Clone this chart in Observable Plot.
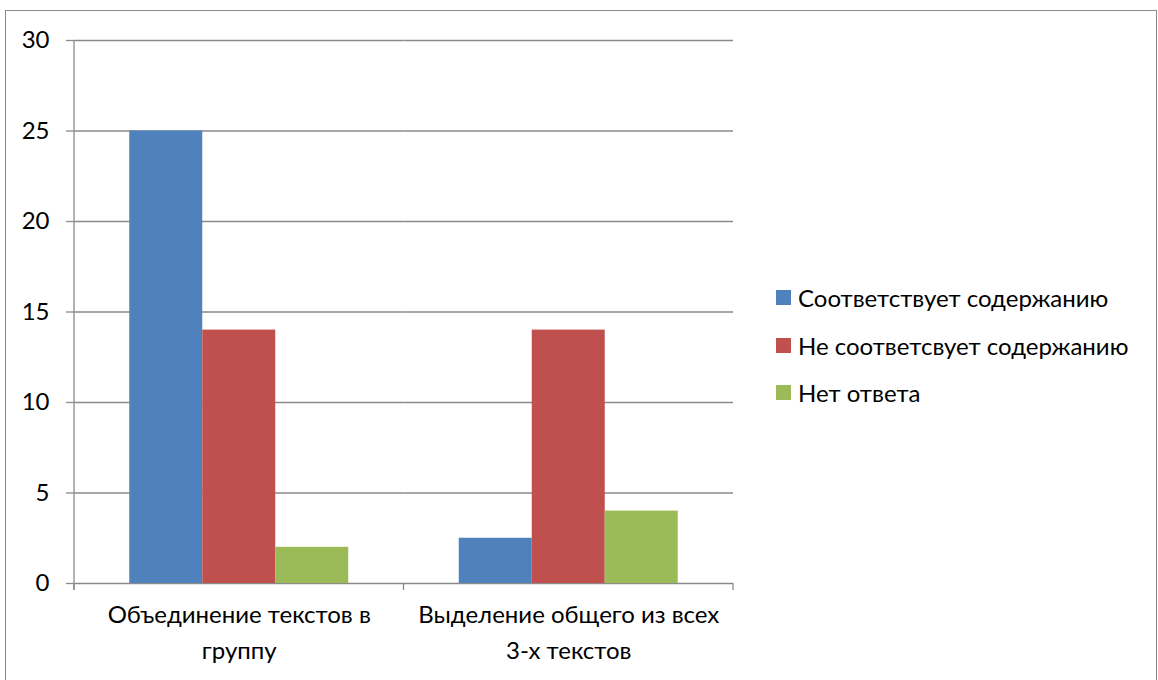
<!DOCTYPE html>
<html><head><meta charset="utf-8">
<script src="https://cdn.jsdelivr.net/npm/d3@7"></script>
<script src="https://cdn.jsdelivr.net/npm/@observablehq/plot@0.6"></script>
<style>
html,body{margin:0;padding:0;background:#fff;overflow:hidden;}
#wrap{position:relative;width:1158px;height:680px;font-family:Lato,sans-serif;}
#border{position:absolute;left:5px;top:10px;width:1152px;height:740px;border:1px solid #8a8a8a;box-sizing:border-box;}
#chart{position:absolute;left:0;top:0;}
#legend{position:absolute;left:776px;top:274px;font-size:24px;color:#000;}
.item{display:flex;align-items:center;height:47.5px;white-space:nowrap;}
.sw{width:15px;height:15px;margin-right:7px;flex:none;}
</style></head>
<body><div id="wrap"><div id="border"></div><div id="chart"></div><div id="legend"></div></div>
<script>
const categories = ["Объединение текстов в группу", "Выделение общего из всех 3-х текстов"];
const categoryLabels = ["Объединение текстов в\nгруппу", "Выделение общего из всех\n3-х текстов"];
const series = ["Соответствует содержанию", "Не соответсвует содержанию", "Нет ответа"];
const valuesSeries1 = [25, 2.5];
const valuesSeries2 = [14, 14];
const valuesSeries3 = [2, 4];
const colors = ["#4F81BD", "#C0504D", "#9BBB59"];
const yTicks = [0, 5, 10, 15, 20, 25, 30];

const allValues = [valuesSeries1, valuesSeries2, valuesSeries3];
const data = [];
categories.forEach((c, i) => series.forEach((s, j) => data.push({category: c, series: s, value: allValues[j][i]})));

const gridColor = "#8a8a8a";
const chart = Plot.plot({
  width: 1158, height: 680,
  marginLeft: 74, marginRight: 425, marginTop: 40, marginBottom: 97,
  style: {fontFamily: "Lato, sans-serif", fontSize: "24px", color: "#000", background: "transparent"},
  fx: {domain: categories, padding: 0, axis: null, label: null, round: false},
  x: {domain: series, paddingInner: 0, paddingOuter: 0.757, axis: null, round: false},
  y: {domain: [0, 30], axis: null, label: null},
  color: {domain: series, range: colors},
  marks: [
    Plot.ruleY(yTicks, {stroke: gridColor, strokeWidth: 1.3}),
    Plot.barY(data, {fx: "category", x: "series", y: "value", fill: "series", inset: 0}),
    Plot.axisY({ticks: yTicks, tickSize: 8, tickPadding: 17, stroke: gridColor, strokeWidth: 1.3, label: null, fontSize: 24}),
    Plot.axisFx({anchor: "bottom", tickSize: 0, tickPadding: 14, label: null, lineHeight: 1.5, fontSize: 24,
      tickFormat: d => categoryLabels[categories.indexOf(d)]})
  ]
});
document.getElementById("chart").appendChild(chart);

// axis lines drawn from the library's scales
const fx = chart.scale("fx"), y = chart.scale("y");
const svg = d3.select(chart);
const g = svg.append("g").attr("stroke", gridColor).attr("stroke-width", 1.3);
const x0 = fx.apply(categories[0]);
g.append("line").attr("x1", x0).attr("x2", x0).attr("y1", y.apply(30)).attr("y2", y.apply(0) + 7);
const edges = categories.map(c => fx.apply(c)).concat([fx.apply(categories[categories.length - 1]) + fx.bandwidth]);
edges.forEach(e => g.append("line").attr("x1", e).attr("x2", e).attr("y1", y.apply(0)).attr("y2", y.apply(0) + 7));

const legend = document.getElementById("legend");
series.forEach((s, i) => {
  const item = document.createElement("div"); item.className = "item";
  const sw = document.createElement("span"); sw.className = "sw"; sw.style.background = colors[i];
  const t = document.createElement("span"); t.textContent = s;
  item.appendChild(sw); item.appendChild(t); legend.appendChild(item);
});
</script>
</body></html>
